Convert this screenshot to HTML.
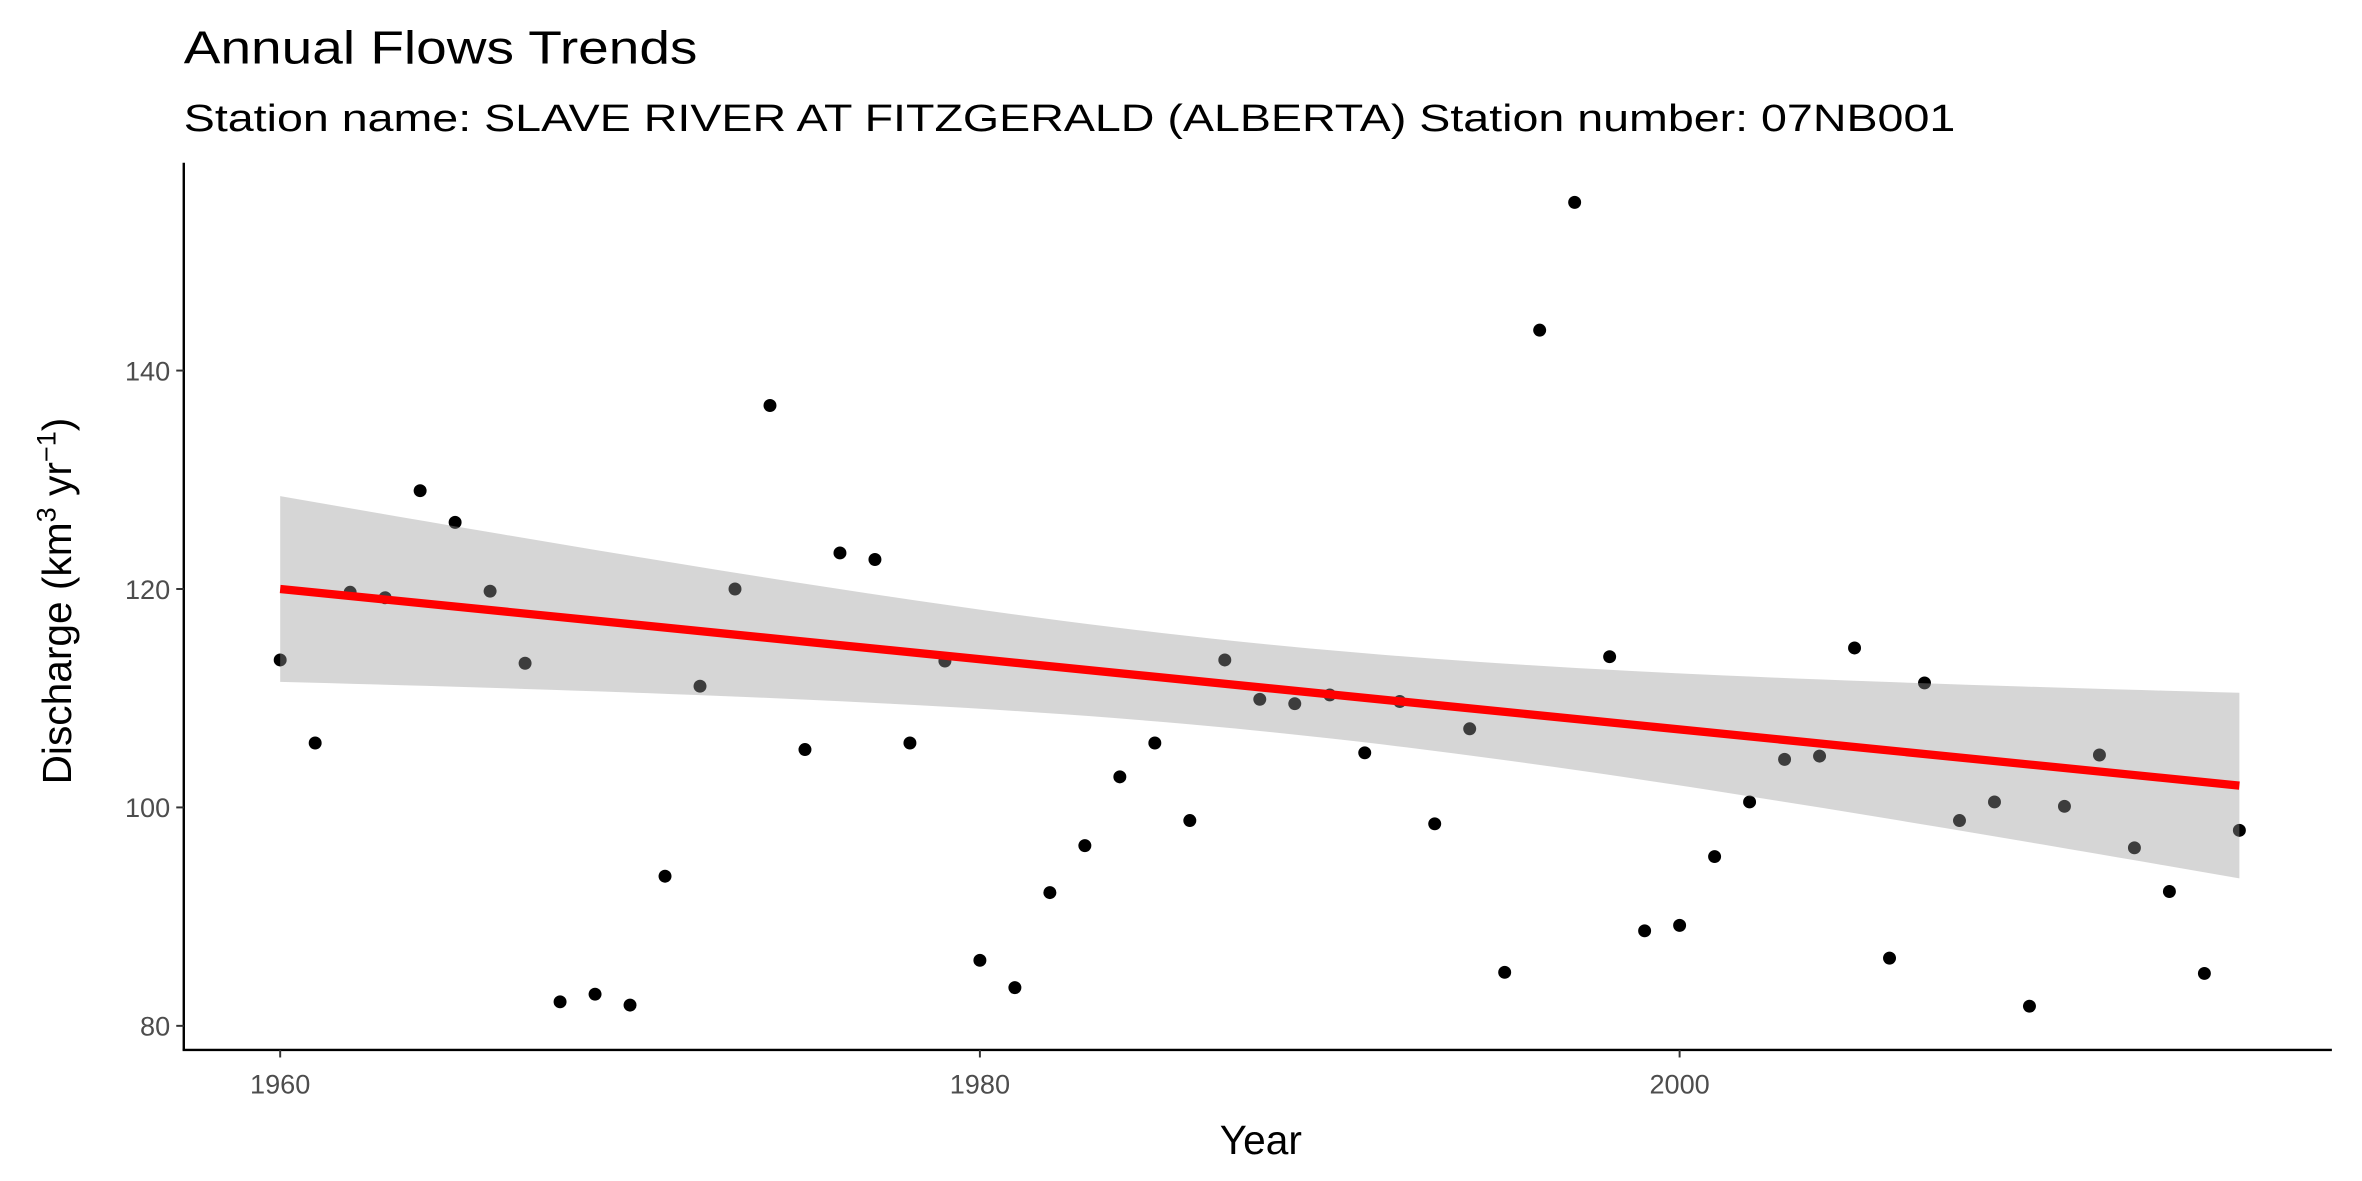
<!DOCTYPE html>
<html><head><meta charset="utf-8"><style>
html,body{margin:0;padding:0;background:#fff;}
svg{display:block;font-family:"Liberation Sans",sans-serif;}
</style></head><body>
<svg id="chart" width="2362" height="1181" viewBox="0 0 1568 784" xmlns="http://www.w3.org/2000/svg">
<rect width="1568" height="784" fill="#fff"/>
<text x="122" y="42" font-size="31" textLength="341" lengthAdjust="spacingAndGlyphs" fill="#000">Annual Flows Trends</text>
<text x="122" y="87" font-size="25" textLength="1176" lengthAdjust="spacingAndGlyphs" fill="#000">Station name: SLAVE RIVER AT FITZGERALD (ALBERTA) Station number: 07NB001</text>
<g id="pts"></g>
<g id="band2"></g>
<g id="trend"></g>
<g id="axes"></g>
<text x="837" y="766" font-size="27" text-anchor="middle" fill="#000">Year</text>
<text transform="translate(47,399) rotate(-90)" font-size="27" text-anchor="middle" fill="#000">Discharge (km<tspan dy="-10" font-size="18">3</tspan><tspan dy="10"> yr</tspan><tspan dy="-10" font-size="18">−1</tspan><tspan dy="10">)</tspan></text>
</svg>
<script>
const years = [1960,1961,1962,1963,1964,1965,1966,1967,1968,1969,1970,1971,1972,1973,1974,1975,1976,1977,1978,1979,1980,1981,1982,1983,1984,1985,1986,1987,1988,1989,1990,1991,1992,1993,1994,1995,1996,1997,1998,1999,2000,2001,2002,2003,2004,2005,2006,2007,2008,2009,2010,2011,2012,2013,2014,2015,2016];
const discharge = [113.5,105.9,119.7,119.2,129.0,126.1,119.8,113.2,82.2,82.9,81.9,93.7,111.1,120.0,136.8,105.3,123.3,122.7,105.9,113.4,86.0,83.5,92.2,96.5,102.8,105.9,98.8,113.5,109.9,109.5,110.3,105.0,109.7,98.5,107.2,84.9,143.7,155.4,113.8,88.7,89.2,95.5,100.5,104.4,104.7,114.6,86.2,111.4,98.8,100.5,81.8,100.1,104.8,96.3,92.3,84.8,97.9];
const trendYears = [1960,2016];
const trendValues = [120.0,102.0];
const ciHalfWidth = [4.0,8.5];
const xTicks = [1960,1980,2000];
const yTicks = [80,100,120,140];

const NS="http://www.w3.org/2000/svg";
const X0=122, X1=1548, Y0=697, Y1=108;
function xs(v){return 186+(v-1960)*(1115-186)/40;}
function ys(v){return 681-(v-80)*(681-246)/60;}
function mk(tag,attrs,parent){const e=document.createElementNS(NS,tag);for(const k in attrs)e.setAttribute(k,attrs[k]);parent.appendChild(e);return e;}

const n=years.length;
const ta=trendYears[0], tb=trendYears[1];
const slope=(trendValues[1]-trendValues[0])/(tb-ta);
function fit(x){return trendValues[0]+slope*(x-ta);}
const mid=(ta+tb)/2, half=(tb-ta)/2;
const cc=(ciHalfWidth[1]**2-ciHalfWidth[0]**2)/(half*half);
function hw(x){return Math.sqrt(ciHalfWidth[0]**2+cc*(x-mid)**2);}
let up=[],lo=[];
for(let k=0;k<=80;k++){const x=ta+(tb-ta)*k/80;
up.push(xs(x).toFixed(2)+","+ys(fit(x)+hw(x)).toFixed(2));lo.unshift(xs(x).toFixed(2)+","+ys(fit(x)-hw(x)).toFixed(2));}

const pts=document.getElementById('pts');
for(let i=0;i<n;i++){
 const c=mk('circle',{cx:xs(years[i]),cy:ys(discharge[i]),r:4.3,fill:'#000'},pts);
 
 
}
const band=mk('polygon',{points:up.concat(lo).join(' '),fill:'#999999','fill-opacity':0.4},document.getElementById('band2'));


const tl=mk('line',{x1:xs(ta),y1:ys(fit(ta)),x2:xs(tb),y2:ys(fit(tb)),stroke:'#ff0000','stroke-width':5.5},document.getElementById('trend'));



const ax=document.getElementById('axes');
const yl=mk('line',{x1:X0,y1:Y1,x2:X0,y2:Y0,stroke:'#000','stroke-width':1.6},ax);


const xl=mk('line',{x1:X0-0.8,y1:Y0,x2:X1,y2:Y0,stroke:'#000','stroke-width':1.6},ax);


xTicks.forEach(v=>{
 const tk=mk('line',{x1:xs(v),y1:Y0,x2:xs(v),y2:Y0+5,stroke:'#333','stroke-width':1.3},ax);
 
 
 const tx=mk('text',{x:xs(v),y:Y0+29,'font-size':18,'text-anchor':'middle',fill:'#4d4d4d'},ax);
 tx.textContent=v;
 
 
});
yTicks.forEach(v=>{
 const tk=mk('line',{x1:X0-5,y1:ys(v),x2:X0,y2:ys(v),stroke:'#333','stroke-width':1.3},ax);
 
 
 const tx=mk('text',{x:X0-9,y:ys(v)+6.5,'font-size':18,'text-anchor':'end',fill:'#4d4d4d'},ax);
 tx.textContent=v;
 
 
});
</script>
</body></html>
